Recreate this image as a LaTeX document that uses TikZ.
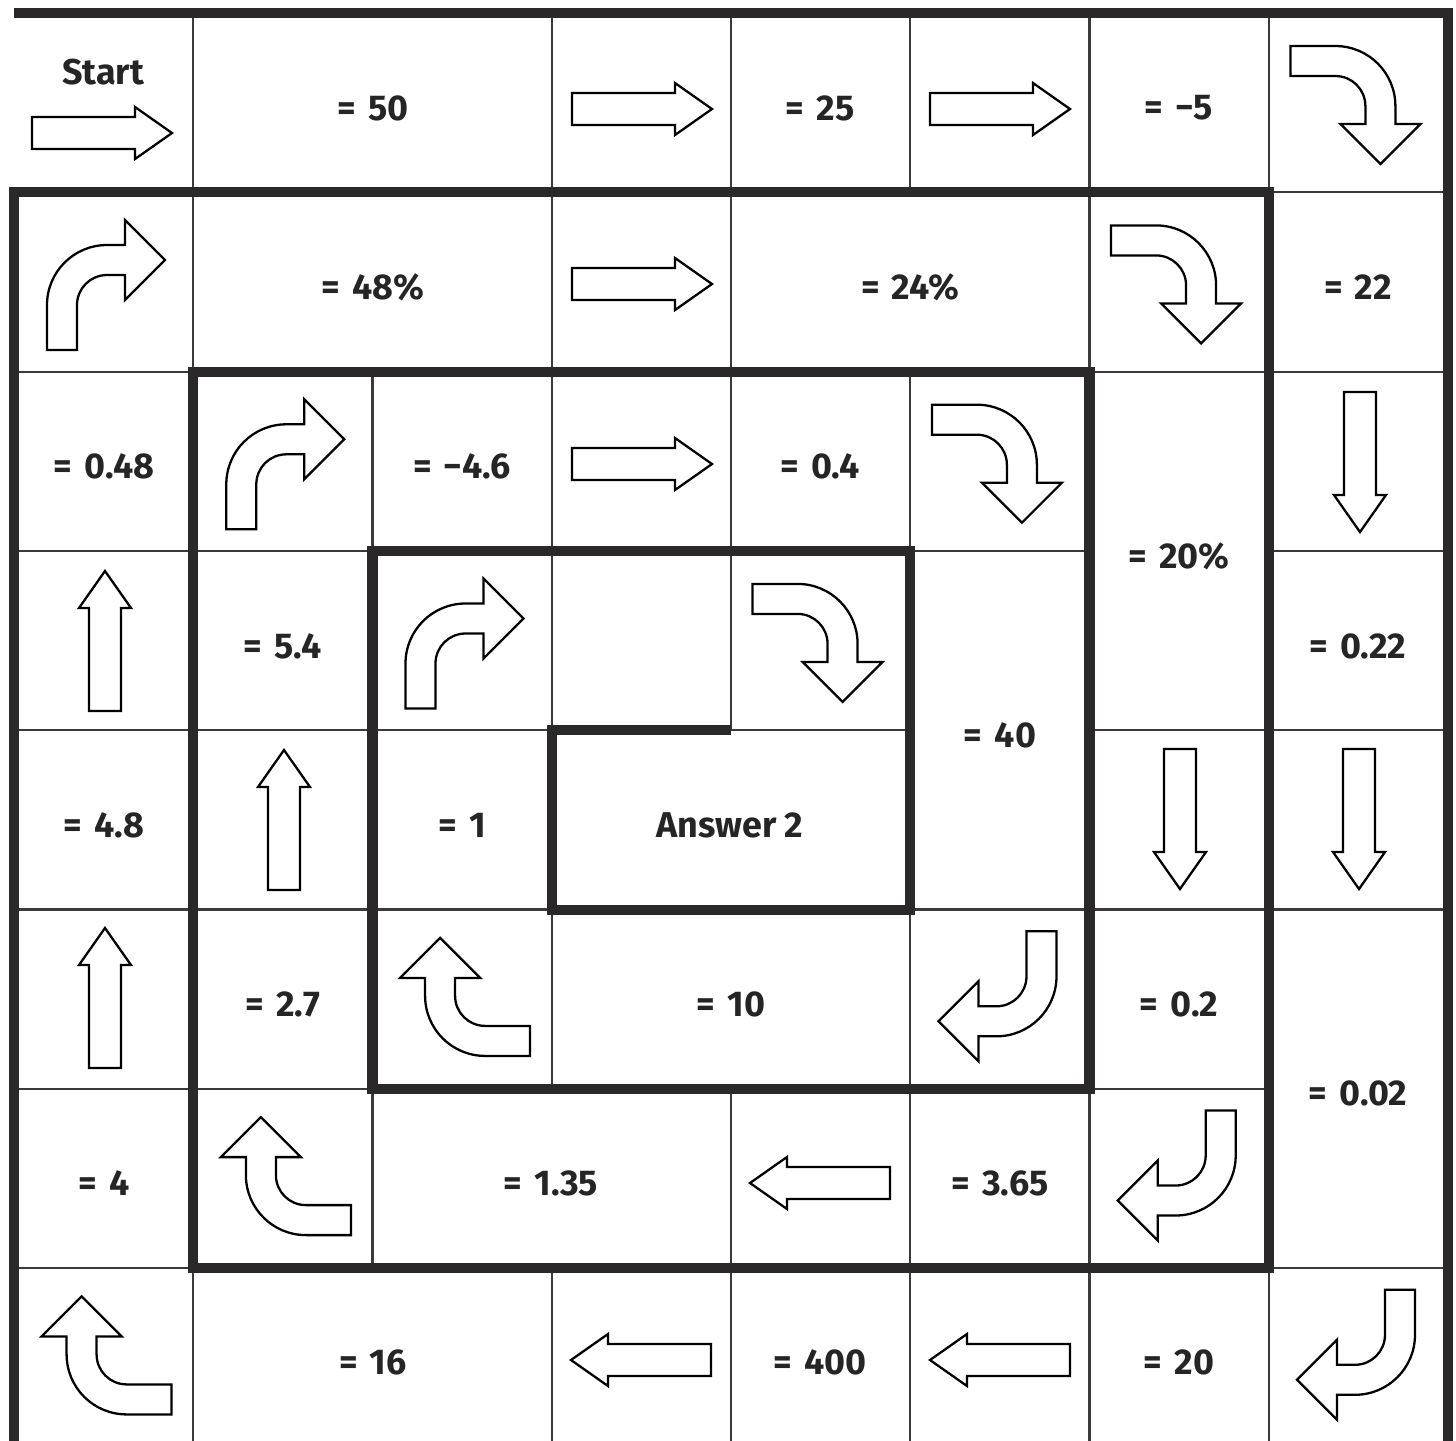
\documentclass[tikz,border=0pt]{standalone}
\usepackage{fontspec}
\setmainfont{Fira Sans}
\definecolor{thickcol}{HTML}{2A2829}
\definecolor{thincol}{HTML}{3A3A3A}
\definecolor{textcol}{HTML}{262526}
\newcommand{\myeq}{=\hspace{0.34em}}
\tikzset{
  thingrid/.style={draw=thincol, line width=0.6pt},
  thickline/.style={draw=thickcol, line width=0.1cm, line join=miter, line cap=butt},
  arrowline/.style={draw=black, fill=white, line width=0.65pt, line join=miter},
  lbl/.style={font=\fontsize{10.2}{12}\selectfont\bfseries, text=textcol, inner sep=0pt},
  straightarrow/.pic={\draw[arrowline] (-70,-16) -- (33,-16) -- (33,-26) -- (70,0) -- (33,26) -- (33,16) -- (-70,16) -- cycle;},
  bentarrow/.pic={\draw[arrowline] (-56.6,68) -- (-26.6,68) -- (-26.6,23) .. controls (-26.6,6.43) and (-13.17,-7) .. (3.4,-7) -- (21.4,-7) -- (21.4,18) -- (61.4,-22) -- (21.4,-62) -- (21.4,-37) -- (3.4,-37) .. controls (-29.74,-37) and (-56.6,-10.14) .. (-56.6,23) -- cycle;}
}
\begin{document}
\begin{tikzpicture}[x=0.01cm,y=-0.01cm]
\useasboundingbox (0,0) rectangle (1456,1441);
\clip (0,0) rectangle (1456,1441);
% thin grid
\draw[thingrid] (14,192.3) -- (1448,192.3);
\draw[thingrid] (14,371.6) -- (1448,371.6);
\draw[thingrid] (14,550.9) -- (1089.5,550.9);
\draw[thingrid] (1268.75,550.9) -- (1448,550.9);
\draw[thingrid] (14,730.2) -- (910.25,730.2);
\draw[thingrid] (1089.5,730.2) -- (1448,730.2);
\draw[thingrid] (14,909.5) -- (1448,909.5);
\draw[thingrid] (14,1088.8) -- (1268.75,1088.8);
\draw[thingrid] (14,1268.1) -- (1448,1268.1);
\draw[thingrid] (193.25,13) -- (193.25,1460);
\draw[thingrid] (372.5,371.6) -- (372.5,1268.1);
\draw[thingrid] (551.75,13) -- (551.75,1088.8);
\draw[thingrid] (551.75,1268.1) -- (551.75,1460);
\draw[thingrid] (731,13) -- (731,730.2);
\draw[thingrid] (731,1088.8) -- (731,1460);
\draw[thingrid] (910.25,13) -- (910.25,192.3);
\draw[thingrid] (910.25,371.6) -- (910.25,1460);
\draw[thingrid] (1089.5,13) -- (1089.5,1460);
\draw[thingrid] (1268.75,13) -- (1268.75,1460);
% thick spiral
\draw[thickline] (14,13) -- (1448,13) -- (1448,1460);
\draw[thickline] (14,1460) -- (14,192.3) -- (1268.75,192.3) -- (1268.75,1268.1) -- (193.25,1268.1) -- (193.25,371.6) -- (1089.5,371.6) -- (1089.5,1088.8) -- (372.5,1088.8) -- (372.5,550.9) -- (910.25,550.9) -- (910.25,909.5) -- (551.75,909.5) -- (551.75,730.2) -- (731,730.2);
% straight arrows
\pic at (102,133) {straightarrow};
\pic at (642,109) {straightarrow};
\pic at (1000,109) {straightarrow};
\pic at (642,284) {straightarrow};
\pic at (642,464) {straightarrow};
\pic[rotate=-90] at (1360,462) {straightarrow};
\pic[rotate=90] at (105,641) {straightarrow};
\pic[rotate=90] at (284,820) {straightarrow};
\pic[rotate=-90] at (1180,819) {straightarrow};
\pic[rotate=-90] at (1359,819) {straightarrow};
\pic[rotate=90] at (105,998) {straightarrow};
\pic[rotate=180] at (820,1183) {straightarrow};
\pic[rotate=180] at (641,1360) {straightarrow};
\pic[rotate=180] at (1000,1360) {straightarrow};
% bent arrows
\pic at (103.6,282) {bentarrow};
\pic at (282.9,461.3) {bentarrow};
\pic at (462.1,640.5) {bentarrow};
\pic[rotate=-90] at (1358.4,102.6) {bentarrow};
\pic[rotate=-90] at (1179.1,282) {bentarrow};
\pic[rotate=-90] at (999.9,461.3) {bentarrow};
\pic[rotate=-90] at (820.6,640.5) {bentarrow};
\pic[rotate=180] at (999.9,999.3) {bentarrow};
\pic[rotate=180] at (1179.1,1178.5) {bentarrow};
\pic[rotate=180] at (1358.4,1357.8) {bentarrow};
\pic[rotate=90] at (462.1,999.3) {bentarrow};
\pic[rotate=90] at (282.9,1178.5) {bentarrow};
\pic[rotate=90] at (103.6,1357.8) {bentarrow};
% labels
\node[lbl] (start) at (103,72) {Start};
\node[lbl] (t50) at (373,108) {\myeq 50};
\node[lbl] (t25) at (820,108) {\myeq 25};
\node[lbl] (tm5) at (1179,108) {\myeq −5};
\node[lbl] (t48p) at (373,287) {\myeq 48\%};
\node[lbl] (t24p) at (910,287) {\myeq 24\%};
\node[lbl] (t22) at (1358,287) {\myeq 22};
\node[lbl] (t048) at (104,466) {\myeq 0.48};
\node[lbl] (tm46) at (462,466) {\myeq −4.6};
\node[lbl] (t04) at (820,466) {\myeq 0.4};
\node[lbl] (t20p) at (1179,556) {\myeq 20\%};
\node[lbl] (t54) at (283,646) {\myeq 5.4};
\node[lbl] (t022) at (1358,646) {\myeq 0.22};
\node[lbl] (t40) at (1000,735) {\myeq 40};
\node[lbl] (t48) at (104,825) {\myeq 4.8};
\node[lbl] (t1) at (462,825) {\myeq 1};
\node[lbl] (ans) at (730,825) {Answer 2};
\node[lbl] (t27) at (283,1004) {\myeq 2.7};
\node[lbl] (t10) at (731,1004) {\myeq 10};
\node[lbl] (t02) at (1179,1004) {\myeq 0.2};
\node[lbl] (t002) at (1358,1093) {\myeq 0.02};
\node[lbl] (t4) at (104,1183) {\myeq 4};
\node[lbl] (t135) at (551,1183) {\myeq 1.35};
\node[lbl] (t365) at (1000,1183) {\myeq 3.65};
\node[lbl] (t16) at (373,1362) {\myeq 16};
\node[lbl] (t400) at (820,1362) {\myeq 400};
\node[lbl] (t20) at (1179,1362) {\myeq 20};
\end{tikzpicture}
\end{document}
